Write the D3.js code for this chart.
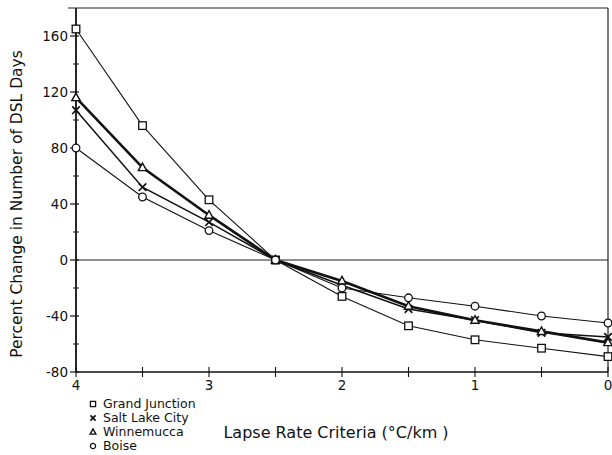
<!DOCTYPE html>
<html>
<head>
<meta charset="utf-8">
<script src="https://cdn.jsdelivr.net/npm/d3@7"></script>
<style>
  body { margin: 0; background: #fff; }
  svg text { font-family: "DejaVu Sans", sans-serif; fill: #111; }
</style>
</head>
<body>
<div id="chart"></div>
<script>
// Lapse rate criteria (°C/km), plotted right-to-left
const lapse = [4, 3.5, 3, 2.5, 2, 1.5, 1, 0.5, 0];

const grandJunction = [165, 96, 43, 0, -26, -47, -57, -63, -69];
const saltLakeCity  = [107, 52, 27, 0, -18, -35, -43, -52, -55];
const winnemucca    = [116, 66, 32, 0, -15, -33, -43, -51, -59];
const boise         = [80, 45, 21, 0, -20, -27, -33, -40, -45];

const xTicks = [4, 3, 2, 1, 0];
const xMinor = [3.5, 2.5, 1.5, 0.5];
const yTicks = [-80, -40, 0, 40, 80, 120, 160];
const yMinor = [-60, -20, 20, 60, 100, 140];

const series = [
  { name: "Grand Junction", values: grandJunction, symbol: "square",   width: 1.1 },
  { name: "Salt Lake City", values: saltLakeCity,  symbol: "cross",    width: 1.5 },
  { name: "Winnemucca",     values: winnemucca,    symbol: "triangle", width: 2.6 },
  { name: "Boise",          values: boise,         symbol: "circle",   width: 1.1 }
];

const W = 612, H = 455;
const M = { top: 8, right: 4, bottom: 83, left: 76 };

const svg = d3.select("#chart").append("svg")
  .attr("width", W).attr("height", H);

const x = d3.scaleLinear().domain([4, 0]).range([M.left, W - M.right]);
const y = d3.scaleLinear().domain([-80, 180]).range([H - M.bottom, M.top]);

const g = svg.append("g");

// frame: left axis, bottom axis, top and right border
g.append("line").attr("x1", x(4)).attr("x2", x(4)).attr("y1", y(180)).attr("y2", y(-80))
  .attr("stroke", "#111").attr("stroke-width", 1.8);
g.append("line").attr("x1", x(4)).attr("x2", x(0)).attr("y1", y(-80)).attr("y2", y(-80))
  .attr("stroke", "#111").attr("stroke-width", 1.6);
g.append("line").attr("x1", x(4) - 8).attr("x2", x(0)).attr("y1", y(180)).attr("y2", y(180))
  .attr("stroke", "#222").attr("stroke-width", 1.2);
g.append("line").attr("x1", x(0)).attr("x2", x(0)).attr("y1", y(180)).attr("y2", y(-80))
  .attr("stroke", "#222").attr("stroke-width", 1.2);
// zero line
g.append("line").attr("x1", x(4)).attr("x2", x(0)).attr("y1", y(0)).attr("y2", y(0))
  .attr("stroke", "#222").attr("stroke-width", 1.2);

// y ticks
g.selectAll(".ytick").data(yTicks).enter().append("line")
  .attr("x1", x(4) - 6).attr("x2", x(4) + 3)
  .attr("y1", d => y(d)).attr("y2", d => y(d))
  .attr("stroke", "#111").attr("stroke-width", 1.2);
g.selectAll(".yminor").data(yMinor).enter().append("line")
  .attr("x1", x(4) - 3).attr("x2", x(4) + 3)
  .attr("y1", d => y(d)).attr("y2", d => y(d))
  .attr("stroke", "#111").attr("stroke-width", 1);
g.selectAll(".ylab").data(yTicks).enter().append("text")
  .attr("x", x(4) - 8).attr("y", d => y(d)).attr("dy", "0.35em")
  .attr("text-anchor", "end").attr("font-size", 13.5)
  .text(d => d < 0 ? "-" + Math.abs(d) : d);

// x ticks
g.selectAll(".xtick").data(xTicks.concat(xMinor)).enter().append("line")
  .attr("x1", d => x(d)).attr("x2", d => x(d))
  .attr("y1", y(-80) - 5).attr("y2", y(-80) + 5)
  .attr("stroke", "#111").attr("stroke-width", 1.1);
g.selectAll(".xlab").data(xTicks).enter().append("text")
  .attr("x", d => x(d)).attr("y", y(-80) + 18)
  .attr("text-anchor", "middle").attr("font-size", 13.5)
  .text(d => d);

// axis titles
svg.append("text")
  .attr("transform", `translate(22,${y(40)}) rotate(-90)`)
  .attr("text-anchor", "middle").attr("font-size", 15.5)
  .text("Percent Change in Number of DSL Days");
svg.append("text")
  .attr("x", 336).attr("y", 438)
  .attr("text-anchor", "middle").attr("font-size", 16)
  .text("Lapse Rate Criteria (°C/km )");

// marker drawing
function drawMarker(sel, symbol, size) {
  if (symbol === "square") {
    sel.append("rect").attr("x", -size).attr("y", -size)
      .attr("width", size * 2).attr("height", size * 2)
      .attr("fill", "#fff").attr("stroke", "#111").attr("stroke-width", 1.3);
  } else if (symbol === "circle") {
    sel.append("circle").attr("r", size)
      .attr("fill", "#fff").attr("stroke", "#111").attr("stroke-width", 1.3);
  } else if (symbol === "triangle") {
    sel.append("path")
      .attr("d", `M0,${-size * 1.2}L${size * 1.1},${size * 0.8}L${-size * 1.1},${size * 0.8}Z`)
      .attr("fill", "#fff").attr("stroke", "#111").attr("stroke-width", 1.4);
  } else {
    sel.append("path")
      .attr("d", `M${-size},${-size}L${size},${size}M${size},${-size}L${-size},${size}`)
      .attr("stroke", "#111").attr("stroke-width", 1.7);
  }
}

const line = d3.line().x((d, i) => x(lapse[i])).y(d => y(d));

series.forEach(s => {
  g.append("path").datum(s.values)
    .attr("d", line).attr("fill", "none")
    .attr("stroke", "#111").attr("stroke-width", s.width);
});
series.forEach(s => {
  s.values.forEach((v, i) => {
    const m = g.append("g").attr("transform", `translate(${x(lapse[i])},${y(v)})`);
    drawMarker(m, s.symbol, 3.8);
  });
});

// legend
const leg = svg.append("g").attr("transform", "translate(93,404)");
series.forEach((s, i) => {
  const row = leg.append("g").attr("transform", `translate(0,${i * 14})`);
  drawMarker(row.append("g"), s.symbol, 2.6);
  row.append("text").attr("x", 10).attr("y", 0).attr("dy", "0.35em")
    .attr("font-size", 12.5).text(s.name);
});
</script>
</body>
</html>
